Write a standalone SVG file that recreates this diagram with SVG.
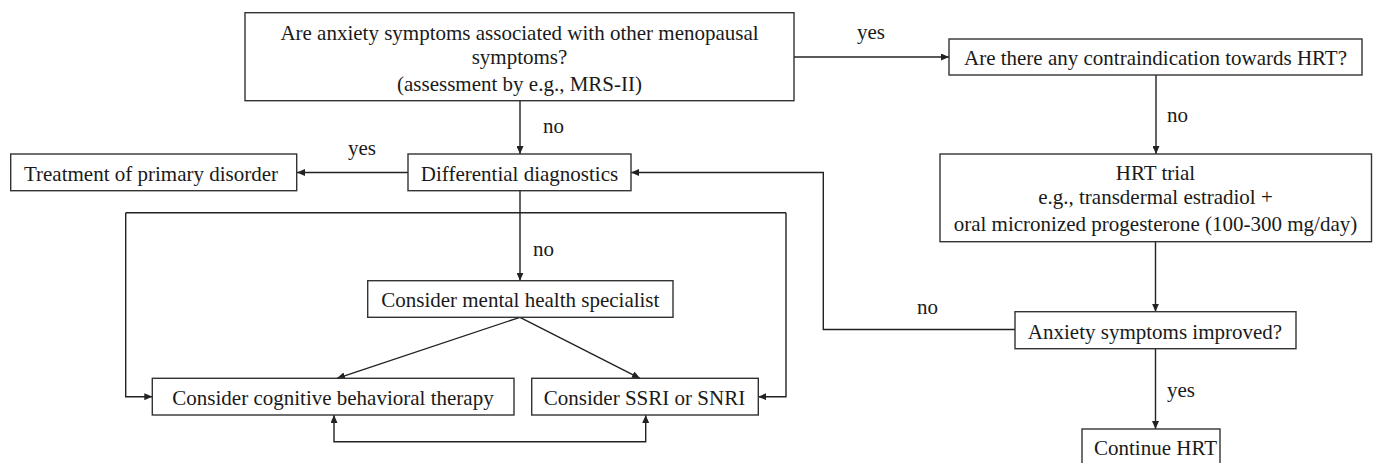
<svg xmlns="http://www.w3.org/2000/svg" width="1375" height="463" viewBox="0 0 1375 463">
<defs>
<style>
.box{fill:#fff;stroke:#333;stroke-width:1.4}
.t{font-family:"Liberation Serif","Times New Roman",serif;font-size:21px;fill:#1a1a1a;text-anchor:middle}
.lbl{font-family:"Liberation Serif","Times New Roman",serif;font-size:21px;fill:#1a1a1a;text-anchor:start}
.c{fill:none;stroke:#222;stroke-width:1.4}
</style>
<marker id="ah" viewBox="0 0 8 7" refX="8" refY="3.5" markerWidth="8" markerHeight="7" markerUnits="userSpaceOnUse" orient="auto-start-reverse">
<path d="M0,0 L8,3.5 L0,7 z" fill="#222"/>
</marker>
</defs>
<rect width="1375" height="463" fill="#fff"/>
<g id="connectors">
<path class="c" d="M520,100.7 V154" marker-end="url(#ah)"/>
<path class="c" d="M794,57 H949" marker-end="url(#ah)"/>
<path class="c" d="M1156,75 V154" marker-end="url(#ah)"/>
<path class="c" d="M408,172.5 H297" marker-end="url(#ah)"/>
<path class="c" d="M520,191 V280.7" marker-end="url(#ah)"/>
<path class="c" d="M125.7,212.7 H786"/>
<path class="c" d="M125.7,212.7 V396.7 H152.3" marker-end="url(#ah)"/>
<path class="c" d="M786,212.7 V396.7 H758.3" marker-end="url(#ah)"/>
<path class="c" d="M520,317.3 L337,378.3" marker-end="url(#ah)"/>
<path class="c" d="M520,317.3 L640,378.3" marker-end="url(#ah)"/>
<path class="c" d="M334,415 V441.7 H645.7 V415" marker-start="url(#ah)" marker-end="url(#ah)"/>
<path class="c" d="M1155.5,241.7 V311.7" marker-end="url(#ah)"/>
<path class="c" d="M1015,329.5 H823.3 V172.5 H631" marker-end="url(#ah)"/>
<path class="c" d="M1155.5,348.7 V429" marker-end="url(#ah)"/>
<text class="lbl" x="857" y="39">yes</text>
<text class="lbl" x="543" y="133">no</text>
<text class="lbl" x="1167" y="122">no</text>
<text class="lbl" x="348" y="155">yes</text>
<text class="lbl" x="533" y="256">no</text>
<text class="lbl" x="917" y="314">no</text>
<text class="lbl" x="1167" y="397">yes</text>
</g>
<g id="n-top">
<rect class="box" x="245" y="12.7" width="549" height="88"/>
<text class="t" x="519.5" y="40">Are anxiety symptoms associated with other menopausal</text>
<text class="t" x="519.5" y="64">symptoms?</text>
<text class="t" x="519.5" y="90.5">(assessment by e.g., MRS-II)</text>
</g>
<g id="n-contra">
<rect class="box" x="949" y="39" width="413" height="36"/>
<text class="t" x="1155.5" y="65">Are there any contraindication towards HRT?</text>
</g>
<g id="n-treatment">
<rect class="box" x="10.7" y="154" width="286" height="36.7"/>
<text class="t" x="151" y="181">Treatment of primary disorder</text>
</g>
<g id="n-diff">
<rect class="box" x="408" y="154" width="223" height="36.7"/>
<text class="t" x="519.5" y="180.5">Differential diagnostics</text>
</g>
<g id="n-hrt">
<rect class="box" x="940" y="154" width="431.5" height="87.7"/>
<text class="t" x="1155.5" y="180">HRT trial</text>
<text class="t" x="1155.5" y="204">e.g., transdermal estradiol +</text>
<text class="t" x="1155.5" y="230.7">oral micronized progesterone (100-300 mg/day)</text>
</g>
<g id="n-mental">
<rect class="box" x="367.7" y="280.7" width="305.3" height="36.6"/>
<text class="t" x="520.3" y="307">Consider mental health specialist</text>
</g>
<g id="n-cbt">
<rect class="box" x="152.3" y="378.3" width="361.7" height="36.7"/>
<text class="t" x="333" y="404.5">Consider cognitive behavioral therapy</text>
</g>
<g id="n-ssri">
<rect class="box" x="531.7" y="378.3" width="226.6" height="36.7"/>
<text class="t" x="644.5" y="404.5">Consider SSRI or SNRI</text>
</g>
<g id="n-anxiety">
<rect class="box" x="1015" y="311.7" width="281" height="37"/>
<text class="t" x="1155" y="339">Anxiety symptoms improved?</text>
</g>
<g id="n-continue">
<rect class="box" x="1082" y="429" width="138" height="37"/>
<text class="t" x="1155.5" y="455">Continue HRT</text>
</g>
</svg>
